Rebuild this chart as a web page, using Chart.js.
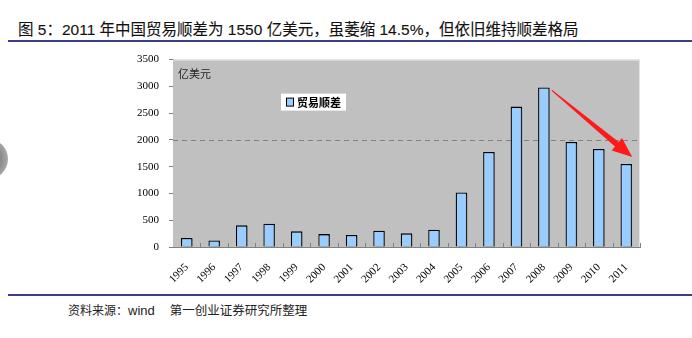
<!DOCTYPE html>
<html lang="zh-CN">
<head>
<meta charset="utf-8">
<script src="https://cdn.jsdelivr.net/npm/chart.js@4/dist/chart.umd.min.js"></script>
<style>
  body { margin: 0; background: #fff; width: 692px; height: 338px; overflow: hidden; position: relative; }
  #title { position: absolute; left: 18px; top: 17px; font: 15.5px "Liberation Sans", "Noto Sans CJK SC", sans-serif; color: #111; white-space: nowrap; -webkit-text-stroke: 0.1px #111; }
  .rule { position: absolute; left: 8px; right: 0; height: 2px; background: #3b3f8f; }
  #foot { position: absolute; left: 68px; top: 300px; font: 12px "Noto Sans CJK SC", sans-serif; color: #222; white-space: nowrap; }
  #foot .en { font-family: "Liberation Sans", sans-serif; font-size: 13px; }
  #foot .src { margin-left: 15px; font-size: 12.5px; }
  #dot { position: absolute; left: -32px; top: 139px; width: 40px; height: 40px; border-radius: 50%;
         background: radial-gradient(circle at 40% 50%, #8c8c8c 55%, #b8b8b8 85%, #e6e6e6 100%); }
  #c { position: absolute; left: 0; top: 43px; }
</style>
</head>
<body>
<div id="title">图 5：2011 年中国贸易顺差为 1550 亿美元，虽萎缩 14.5%，但依旧维持顺差格局</div>
<div class="rule" style="top:40px"></div>
<div id="dot"></div>
<canvas id="c" width="692" height="250"></canvas>
<div class="rule" style="top:294px"></div>
<div id="foot">资料来源：<span class="en">wind</span><span class="src">第一创业证券研究所整理</span></div>
<script>
const years = ['1995', '1996', '1997', '1998', '1999', '2000', '2001', '2002', '2003',
               '2004', '2005', '2006', '2007', '2008', '2009', '2010', '2011'];
const surplus = [167, 122, 404, 435, 292, 241, 225, 304, 255,
                 321, 1020, 1775, 2622, 2981, 1961, 1831, 1550];
const seriesName = '贸易顺差';
const unitLabel = '亿美元';
const dashAt = 2000;

// grey plot background, frame, dashed 2000 line and small category ticks
const plotBack = {
  id: 'plotBack',
  beforeDatasetsDraw(chart) {
    const { ctx, chartArea: a, scales } = chart;
    ctx.save();
    ctx.fillStyle = '#c0c0c0';
    ctx.fillRect(a.left, a.top, a.right - a.left, a.bottom - a.top);
    ctx.strokeStyle = '#e4e4e4';
    ctx.lineWidth = 1;
    ctx.beginPath();
    ctx.moveTo(a.left, a.top + 0.5);
    ctx.lineTo(a.right - 0.5, a.top + 0.5);
    ctx.lineTo(a.right - 0.5, a.bottom);
    ctx.stroke();
    const y = Math.round(scales.y.getPixelForValue(dashAt)) + 0.5;
    ctx.strokeStyle = '#808080';
    ctx.setLineDash([5, 4]);
    ctx.beginPath();
    ctx.moveTo(a.left, y);
    ctx.lineTo(a.right, y);
    ctx.stroke();
    ctx.setLineDash([]);
    const step = (a.right - a.left) / years.length;
    ctx.beginPath();
    for (let i = 1; i <= years.length; i++) {
      const x = Math.round(a.left + i * step) + 0.5;
      ctx.moveTo(x, a.bottom);
      ctx.lineTo(x, a.bottom - 4);
    }
    ctx.stroke();
    ctx.restore();
    ctx.save();
    ctx.shadowColor = 'rgba(60,60,60,0.55)';
    ctx.shadowOffsetX = 2;
    ctx.shadowOffsetY = 1;
  },
  afterDatasetsDraw(chart) {
    chart.ctx.restore();
  }
};

// unit text, legend box and the red arrow 2008 -> 2011
const notes = {
  id: 'notes',
  afterDraw(chart) {
    const { ctx, chartArea: a, scales } = chart;
    ctx.save();
    ctx.fillStyle = '#222';
    ctx.font = '11px "Noto Sans CJK SC", sans-serif';
    ctx.textBaseline = 'middle';
    ctx.fillText(unitLabel, a.left + 5, a.top + 14);

    const lx = a.left + 108, ly = a.top + 34;
    ctx.fillStyle = '#fff';
    ctx.fillRect(lx, ly, 65, 17);
    ctx.fillStyle = '#99ccff';
    ctx.fillRect(lx + 5, ly + 4.5, 8, 8);
    ctx.strokeStyle = '#000';
    ctx.lineWidth = 1;
    ctx.strokeRect(lx + 5.5, ly + 4.5, 7, 8);
    ctx.fillStyle = '#000';
    ctx.font = 'bold 11px "Noto Sans CJK SC", sans-serif';
    ctx.fillText(seriesName, lx + 16, ly + 9);

    const i0 = years.indexOf('2008'), i1 = years.indexOf('2011');
    const x0 = scales.x.getPixelForValue(i0) + 8, y0 = scales.y.getPixelForValue(surplus[i0]) + 3;
    const x1 = scales.x.getPixelForValue(i1) + 6, y1 = scales.y.getPixelForValue(surplus[i1]) - 7;
    const ang = Math.atan2(y1 - y0, x1 - x0);
    const len = Math.hypot(x1 - x0, y1 - y0);
    const head = 20, hw = 8, sw = 3;
    ctx.translate(x0, y0);
    ctx.rotate(ang);
    ctx.fillStyle = '#ff1a1a';
    ctx.beginPath();
    ctx.moveTo(0, -0.6);
    ctx.lineTo(len - head, -sw);
    ctx.lineTo(len - head, -hw);
    ctx.lineTo(len, 0);
    ctx.lineTo(len - head, hw);
    ctx.lineTo(len - head, sw);
    ctx.lineTo(0, 0.6);
    ctx.closePath();
    ctx.fill();
    ctx.restore();
  }
};

new Chart(document.getElementById('c'), {
  type: 'bar',
  data: {
    labels: years,
    datasets: [{
      label: seriesName,
      data: surplus,
      backgroundColor: '#99ccff',
      borderColor: '#000',
      borderWidth: 1.3,
      barPercentage: 0.42,
      categoryPercentage: 1
    }]
  },
  options: {
    responsive: false,
    animation: false,
    devicePixelRatio: 1,
    layout: { padding: { top: 4, right: 52, left: 0, bottom: 0 } },
    plugins: { legend: { display: false }, tooltip: { enabled: false } },
    scales: {
      x: {
        offset: true,
        grid: { display: false },
        border: { display: true, color: '#808080', width: 1 },
        ticks: {
          color: '#000', padding: 6, maxRotation: 45, minRotation: 45,
          font: { family: '"Liberation Serif", serif', size: 11 }
        },
        afterFit(s) { s.height = 46; }
      },
      y: {
        min: 0, max: 3500,
        grid: { drawOnChartArea: false, drawTicks: true, tickLength: 4, color: '#808080' },
        border: { display: true, color: '#808080', width: 1 },
        ticks: {
          stepSize: 500, color: '#000', padding: 10,
          font: { family: '"Liberation Serif", serif', size: 11 },
          callback: v => String(v)
        },
        afterFit(s) { s.width = 173; }
      }
    }
  },
  plugins: [plotBack, notes]
});
</script>
</body>
</html>
